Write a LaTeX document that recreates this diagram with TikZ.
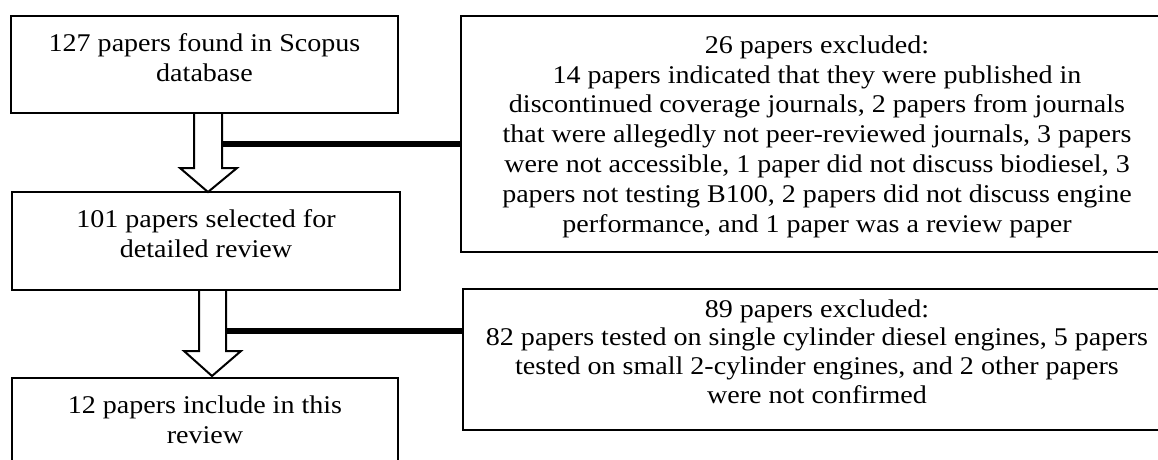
\documentclass[tikz,border=0pt]{standalone}
\usepackage{fontspec}
\setmainfont{Liberation Serif}[FakeStretch=1.1]
\usetikzlibrary{calc}
\begin{document}
\begin{tikzpicture}[x=1pt,y=-1pt,
  box/.style={draw, line width=2pt, inner sep=0pt},
  txt/.style={align=center, inner sep=0pt, font=\fontsize{25.5}{29.8}\selectfont},
  txtb/.style={align=center, inner sep=0pt, font=\fontsize{25.5}{28.8}\selectfont},
  flow/.style={draw, line width=2pt, fill=white, line join=miter},
  bar/.style={draw, line width=6.5pt}]
\useasboundingbox (0,0) rectangle (1158,459);
\fill[white] (0,0) rectangle (1158,459);
\clip (0,0) rectangle (1158,459);
% left boxes
\node[box, minimum width=387pt, minimum height=97pt] (b1) at (204.5,64.5) {};
\node[box, minimum width=388pt, minimum height=98pt] (b2) at (206,241) {};
\node[box, minimum width=386pt, minimum height=85pt] (b3) at (205,420.5) {};
\node[txt] (t1) at (204.5,57.5) {127 papers found in Scopus\\database};
\node[txt] (t2) at (206,233.8) {101 papers selected for\\detailed review};
\node[txt] (t3) at (205,419.5) {12 papers include in this\\review};
% right boxes
\node[box, minimum width=712pt, minimum height=236pt] (r1) at (817,134) {};
\node[box, minimum width=708pt, minimum height=141pt] (r2) at (817,359.5) {};
\node[txt] (s1) at (817,136.5) {26 papers excluded:\\
14 papers indicated that they were published in\\
discontinued coverage journals, 2 papers from journals\\
that were allegedly not peer-reviewed journals, 3 papers\\
were not accessible, 1 paper did not discuss biodiesel, 3\\
papers not testing B100, 2 papers did not discuss engine\\
performance, and 1 paper was a review paper};
\node[txtb] (s2) at (817,351.5) {89 papers excluded:\\
82 papers tested on single cylinder diesel engines, 5 papers\\
tested on small 2-cylinder engines, and 2 other papers\\
were not confirmed};
% exclusion bars
\coordinate (e1) at ($(b1.south)+(17.5,30)$);
\coordinate (e2) at ($(b2.south)+(20,40)$);
\draw[bar] (e1) -- (r1.west |- e1);
\draw[bar] (e2) -- (r2.west |- e2);
% block arrows
\draw[flow] ($(b1.south)+(-10.5,0)$) -- ++(0,54) -- ++(-14,0) -- ++(28,24)
  -- ++(29,-24) -- ++(-15,0) -- ++(0,-54);
\draw[flow] ($(b2.south)+(-7,0)$) -- ++(0,60) -- ++(-15,0) -- ++(28,25)
  -- ++(29,-25) -- ++(-15,0) -- ++(0,-60);
\end{tikzpicture}
\end{document}
